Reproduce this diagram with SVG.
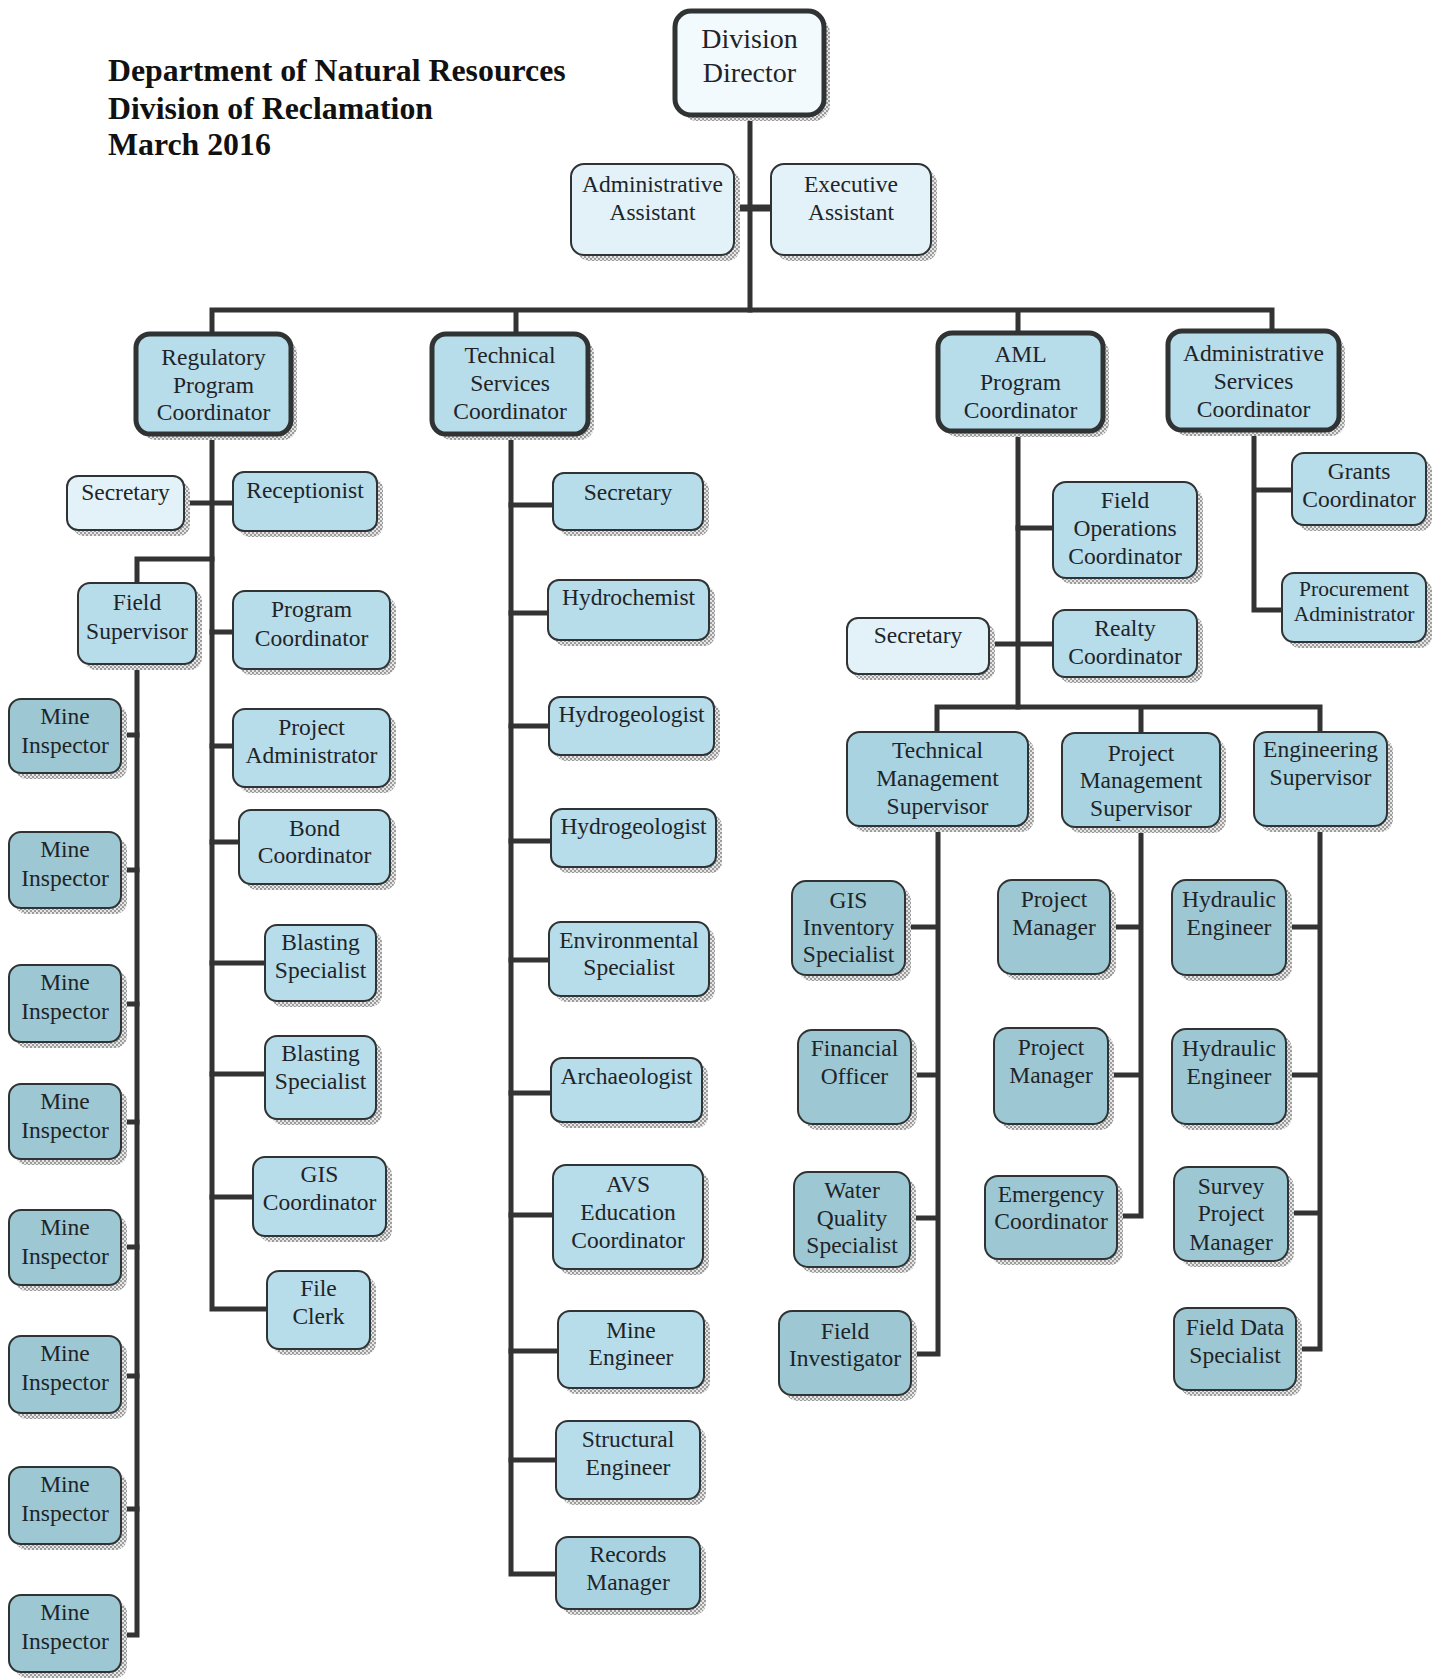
<svg xmlns="http://www.w3.org/2000/svg" width="1442" height="1679" viewBox="0 0 1442 1679">
<defs>
<pattern id="chk" width="4" height="4" patternUnits="userSpaceOnUse">
<rect width="4" height="4" fill="#e6e6e6"/>
<rect width="2" height="2" fill="#9c9c9c"/>
<rect x="2" y="2" width="2" height="2" fill="#9c9c9c"/>
</pattern>
</defs>
<style>
.sh{fill:url(#chk);}
.box{stroke:#2f3333;stroke-width:2;}
.major .box{stroke-width:5;}
.dir .box{fill:#f2fafd;}
.lt .box{fill:#e2f2f8;}
.md .box{fill:#b7dcea;}
.sp .box{fill:#a9d3e0;}
.dk .box{fill:#9dc8d3;}
text{font-family:"Liberation Serif","Times New Roman",serif;font-size:23.5px;fill:#1e2428;text-anchor:middle;}
.title{font-size:31.8px;font-weight:bold;text-anchor:start;fill:#111;}
.dir text{font-size:28px;}
.small{font-size:21.5px;}
.con path{fill:none;stroke:#333;stroke-width:5;stroke-linejoin:miter;stroke-linecap:square;}
</style>
<rect width="1442" height="1679" fill="#ffffff"/>
<g id="title">
<text class="title" x="108" y="81">Department of Natural Resources</text>
<text class="title" x="108" y="119">Division of Reclamation</text>
<text class="title" x="108" y="155">March 2016</text>
</g>
<g id="connectors" class="con">
<path d="M750 115V310"/>
<path d="M734 208H771" style="stroke-width:7"/>
<path d="M212 310H1272M212 310V334M516 310V334M1018 310V333M1272 310V331"/>
<path d="M212 434V1309H267"/>
<path d="M184 503H233"/>
<path d="M212 559H137V583"/>
<path d="M212 632H233M212 746H233M212 842H239M212 963H265M212 1074H265M212 1197H253"/>
<path d="M137 664V1635H121"/>
<path d="M121 735H137M121 870H137M121 1004H137M121 1122H137M121 1247H137M121 1376H137M121 1509H137"/>
<path d="M511 434V1574H556"/>
<path d="M511 505H553M511 613H548M511 726H549M511 841H551M511 960H549M511 1093H551M511 1215H553M511 1351H558M511 1460H556"/>
<path d="M1018 431V707"/>
<path d="M1018 528H1053M989 644H1053"/>
<path d="M937 707H1320M937 707V732M1141 707V733M1320 707V732"/>
<path d="M938 826V1354H911M905 927H938M911 1075H938M910 1218H938"/>
<path d="M1141 827V1216H1117M1110 927H1141M1108 1075H1141"/>
<path d="M1320 826V1349H1296M1286 927H1320M1286 1075H1320M1288 1213H1320"/>
<path d="M1254 430V610H1282M1254 490H1292"/>
</g>
<g id="division-director" class="major dir"><rect class="sh" x="681" y="17" width="149" height="104" rx="16"/><rect class="box" x="675" y="11" width="149" height="104" rx="16"/><text x="749.5"><tspan x="749.5" y="48">Division</tspan><tspan x="749.5" y="82">Director</tspan></text></g>
<g id="administrative-assistant" class="lt"><rect class="sh" x="577" y="170" width="163" height="91" rx="13"/><rect class="box" x="571" y="164" width="163" height="91" rx="13"/><text><tspan x="652.5" y="192">Administrative</tspan><tspan x="652.5" y="220">Assistant</tspan></text></g>
<g id="executive-assistant" class="lt"><rect class="sh" x="777" y="170" width="160" height="91" rx="13"/><rect class="box" x="771" y="164" width="160" height="91" rx="13"/><text><tspan x="851" y="192">Executive</tspan><tspan x="851" y="220">Assistant</tspan></text></g>
<g id="regulatory-program-coordinator" class="major md"><rect class="sh" x="142" y="340" width="155" height="100" rx="14"/><rect class="box" x="136" y="334" width="155" height="100" rx="14"/><text><tspan x="213.5" y="365">Regulatory</tspan><tspan x="213.5" y="392.5">Program</tspan><tspan x="213.5" y="420">Coordinator</tspan></text></g>
<g id="technical-services-coordinator" class="major md"><rect class="sh" x="438" y="340" width="156" height="100" rx="14"/><rect class="box" x="432" y="334" width="156" height="100" rx="14"/><text><tspan x="510" y="363">Technical</tspan><tspan x="510" y="391">Services</tspan><tspan x="510" y="419">Coordinator</tspan></text></g>
<g id="aml-program-coordinator" class="major md"><rect class="sh" x="944" y="339" width="165" height="98" rx="14"/><rect class="box" x="938" y="333" width="165" height="98" rx="14"/><text><tspan x="1020.5" y="362">AML</tspan><tspan x="1020.5" y="390">Program</tspan><tspan x="1020.5" y="418">Coordinator</tspan></text></g>
<g id="administrative-services-coordinator" class="major md"><rect class="sh" x="1174" y="337" width="171" height="99" rx="14"/><rect class="box" x="1168" y="331" width="171" height="99" rx="14"/><text><tspan x="1253.5" y="361">Administrative</tspan><tspan x="1253.5" y="389">Services</tspan><tspan x="1253.5" y="417">Coordinator</tspan></text></g>
<g id="reg-secretary" class="lt"><rect class="sh" x="73" y="482" width="117" height="54" rx="11"/><rect class="box" x="67" y="476" width="117" height="54" rx="11"/><text x="125.5" y="500">Secretary</text></g>
<g id="receptionist" class="md"><rect class="sh" x="239" y="478" width="144" height="59" rx="11"/><rect class="box" x="233" y="472" width="144" height="59" rx="11"/><text x="305" y="498">Receptionist</text></g>
<g id="field-supervisor" class="md"><rect class="sh" x="84" y="589" width="118" height="81" rx="12"/><rect class="box" x="78" y="583" width="118" height="81" rx="12"/><text><tspan x="137" y="610">Field</tspan><tspan x="137" y="638.5">Supervisor</tspan></text></g>
<g id="program-coordinator" class="md"><rect class="sh" x="239" y="597" width="157" height="78" rx="12"/><rect class="box" x="233" y="591" width="157" height="78" rx="12"/><text><tspan x="311.5" y="617">Program</tspan><tspan x="311.5" y="646">Coordinator</tspan></text></g>
<g id="project-administrator" class="md"><rect class="sh" x="239" y="715" width="157" height="78" rx="12"/><rect class="box" x="233" y="709" width="157" height="78" rx="12"/><text><tspan x="311.5" y="735">Project</tspan><tspan x="311.5" y="763">Administrator</tspan></text></g>
<g id="bond-coordinator" class="md"><rect class="sh" x="245" y="816" width="151" height="74" rx="12"/><rect class="box" x="239" y="810" width="151" height="74" rx="12"/><text><tspan x="314.5" y="835.5">Bond</tspan><tspan x="314.5" y="863">Coordinator</tspan></text></g>
<g id="blasting-specialist-1" class="md"><rect class="sh" x="271" y="931" width="111" height="76" rx="12"/><rect class="box" x="265" y="925" width="111" height="76" rx="12"/><text><tspan x="320.5" y="950">Blasting</tspan><tspan x="320.5" y="978">Specialist</tspan></text></g>
<g id="blasting-specialist-2" class="md"><rect class="sh" x="271" y="1042" width="111" height="83" rx="12"/><rect class="box" x="265" y="1036" width="111" height="83" rx="12"/><text><tspan x="320.5" y="1061">Blasting</tspan><tspan x="320.5" y="1089">Specialist</tspan></text></g>
<g id="gis-coordinator" class="md"><rect class="sh" x="259" y="1163" width="133" height="79" rx="12"/><rect class="box" x="253" y="1157" width="133" height="79" rx="12"/><text><tspan x="319.5" y="1182">GIS</tspan><tspan x="319.5" y="1210">Coordinator</tspan></text></g>
<g id="file-clerk" class="md"><rect class="sh" x="273" y="1277" width="103" height="78" rx="12"/><rect class="box" x="267" y="1271" width="103" height="78" rx="12"/><text><tspan x="318.5" y="1296">File</tspan><tspan x="318.5" y="1324">Clerk</tspan></text></g>
<g id="mine-inspector-1" class="dk"><rect class="sh" x="15" y="705" width="112" height="74" rx="12"/><rect class="box" x="9" y="699" width="112" height="74" rx="12"/><text><tspan x="65" y="724">Mine</tspan><tspan x="65" y="753">Inspector</tspan></text></g>
<g id="mine-inspector-2" class="dk"><rect class="sh" x="15" y="838" width="112" height="76" rx="12"/><rect class="box" x="9" y="832" width="112" height="76" rx="12"/><text><tspan x="65" y="857">Mine</tspan><tspan x="65" y="886">Inspector</tspan></text></g>
<g id="mine-inspector-3" class="dk"><rect class="sh" x="15" y="971" width="112" height="77" rx="12"/><rect class="box" x="9" y="965" width="112" height="77" rx="12"/><text><tspan x="65" y="990">Mine</tspan><tspan x="65" y="1019">Inspector</tspan></text></g>
<g id="mine-inspector-4" class="dk"><rect class="sh" x="15" y="1090" width="112" height="75" rx="12"/><rect class="box" x="9" y="1084" width="112" height="75" rx="12"/><text><tspan x="65" y="1109">Mine</tspan><tspan x="65" y="1138">Inspector</tspan></text></g>
<g id="mine-inspector-5" class="dk"><rect class="sh" x="15" y="1216" width="112" height="75" rx="12"/><rect class="box" x="9" y="1210" width="112" height="75" rx="12"/><text><tspan x="65" y="1235">Mine</tspan><tspan x="65" y="1264">Inspector</tspan></text></g>
<g id="mine-inspector-6" class="dk"><rect class="sh" x="15" y="1342" width="112" height="77" rx="12"/><rect class="box" x="9" y="1336" width="112" height="77" rx="12"/><text><tspan x="65" y="1361">Mine</tspan><tspan x="65" y="1390">Inspector</tspan></text></g>
<g id="mine-inspector-7" class="dk"><rect class="sh" x="15" y="1473" width="112" height="77" rx="12"/><rect class="box" x="9" y="1467" width="112" height="77" rx="12"/><text><tspan x="65" y="1492">Mine</tspan><tspan x="65" y="1521">Inspector</tspan></text></g>
<g id="mine-inspector-8" class="dk"><rect class="sh" x="15" y="1601" width="112" height="77" rx="12"/><rect class="box" x="9" y="1595" width="112" height="77" rx="12"/><text><tspan x="65" y="1620">Mine</tspan><tspan x="65" y="1649">Inspector</tspan></text></g>
<g id="tech-secretary" class="md"><rect class="sh" x="559" y="479" width="150" height="57" rx="11"/><rect class="box" x="553" y="473" width="150" height="57" rx="11"/><text x="628" y="500">Secretary</text></g>
<g id="hydrochemist" class="md"><rect class="sh" x="554" y="586" width="161" height="60" rx="11"/><rect class="box" x="548" y="580" width="161" height="60" rx="11"/><text x="628.5" y="605">Hydrochemist</text></g>
<g id="hydrogeologist-1" class="md"><rect class="sh" x="555" y="703" width="165" height="58" rx="11"/><rect class="box" x="549" y="697" width="165" height="58" rx="11"/><text x="631.5" y="722">Hydrogeologist</text></g>
<g id="hydrogeologist-2" class="md"><rect class="sh" x="557" y="815" width="165" height="58" rx="11"/><rect class="box" x="551" y="809" width="165" height="58" rx="11"/><text x="633.5" y="834">Hydrogeologist</text></g>
<g id="environmental-specialist" class="md"><rect class="sh" x="555" y="928" width="160" height="74" rx="12"/><rect class="box" x="549" y="922" width="160" height="74" rx="12"/><text><tspan x="629" y="948">Environmental</tspan><tspan x="629" y="975">Specialist</tspan></text></g>
<g id="archaeologist" class="md"><rect class="sh" x="557" y="1064" width="151" height="64" rx="11"/><rect class="box" x="551" y="1058" width="151" height="64" rx="11"/><text x="626.5" y="1084">Archaeologist</text></g>
<g id="avs-education-coordinator" class="md"><rect class="sh" x="559" y="1171" width="150" height="104" rx="13"/><rect class="box" x="553" y="1165" width="150" height="104" rx="13"/><text><tspan x="628" y="1192">AVS</tspan><tspan x="628" y="1220">Education</tspan><tspan x="628" y="1248">Coordinator</tspan></text></g>
<g id="mine-engineer" class="md"><rect class="sh" x="564" y="1317" width="146" height="77" rx="12"/><rect class="box" x="558" y="1311" width="146" height="77" rx="12"/><text><tspan x="631" y="1338">Mine</tspan><tspan x="631" y="1365">Engineer</tspan></text></g>
<g id="structural-engineer" class="md"><rect class="sh" x="562" y="1427" width="144" height="78" rx="12"/><rect class="box" x="556" y="1421" width="144" height="78" rx="12"/><text><tspan x="628" y="1447">Structural</tspan><tspan x="628" y="1475">Engineer</tspan></text></g>
<g id="records-manager" class="sp"><rect class="sh" x="562" y="1543" width="144" height="72" rx="12"/><rect class="box" x="556" y="1537" width="144" height="72" rx="12"/><text><tspan x="628" y="1562">Records</tspan><tspan x="628" y="1590">Manager</tspan></text></g>
<g id="field-operations-coordinator" class="md"><rect class="sh" x="1059" y="488" width="144" height="96" rx="13"/><rect class="box" x="1053" y="482" width="144" height="96" rx="13"/><text><tspan x="1125" y="508">Field</tspan><tspan x="1125" y="536">Operations</tspan><tspan x="1125" y="564">Coordinator</tspan></text></g>
<g id="aml-secretary" class="lt"><rect class="sh" x="853" y="624" width="142" height="56" rx="11"/><rect class="box" x="847" y="618" width="142" height="56" rx="11"/><text x="918" y="643">Secretary</text></g>
<g id="realty-coordinator" class="md"><rect class="sh" x="1059" y="616" width="144" height="67" rx="12"/><rect class="box" x="1053" y="610" width="144" height="67" rx="12"/><text><tspan x="1125" y="636">Realty</tspan><tspan x="1125" y="664">Coordinator</tspan></text></g>
<g id="technical-management-supervisor" class="sp"><rect class="sh" x="853" y="738" width="181" height="94" rx="13"/><rect class="box" x="847" y="732" width="181" height="94" rx="13"/><text><tspan x="937.5" y="758">Technical</tspan><tspan x="937.5" y="786">Management</tspan><tspan x="937.5" y="814">Supervisor</tspan></text></g>
<g id="project-management-supervisor" class="sp"><rect class="sh" x="1068" y="739" width="158" height="94" rx="13"/><rect class="box" x="1062" y="733" width="158" height="94" rx="13"/><text><tspan x="1141" y="761">Project</tspan><tspan x="1141" y="788">Management</tspan><tspan x="1141" y="816">Supervisor</tspan></text></g>
<g id="engineering-supervisor" class="sp"><rect class="sh" x="1260" y="738" width="133" height="94" rx="13"/><rect class="box" x="1254" y="732" width="133" height="94" rx="13"/><text><tspan x="1320.5" y="757">Engineering</tspan><tspan x="1320.5" y="785">Supervisor</tspan></text></g>
<g id="gis-inventory-specialist" class="dk"><rect class="sh" x="798" y="887" width="113" height="94" rx="14"/><rect class="box" x="792" y="881" width="113" height="94" rx="14"/><text><tspan x="848.5" y="908">GIS</tspan><tspan x="848.5" y="935">Inventory</tspan><tspan x="848.5" y="962">Specialist</tspan></text></g>
<g id="financial-officer" class="dk"><rect class="sh" x="804" y="1036" width="113" height="94" rx="14"/><rect class="box" x="798" y="1030" width="113" height="94" rx="14"/><text><tspan x="854.5" y="1056">Financial</tspan><tspan x="854.5" y="1084">Officer</tspan></text></g>
<g id="water-quality-specialist" class="dk"><rect class="sh" x="800" y="1178" width="116" height="95" rx="14"/><rect class="box" x="794" y="1172" width="116" height="95" rx="14"/><text><tspan x="852" y="1198">Water</tspan><tspan x="852" y="1226">Quality</tspan><tspan x="852" y="1253">Specialist</tspan></text></g>
<g id="field-investigator" class="dk"><rect class="sh" x="785" y="1317" width="132" height="84" rx="13"/><rect class="box" x="779" y="1311" width="132" height="84" rx="13"/><text><tspan x="845" y="1339">Field</tspan><tspan x="845" y="1366">Investigator</tspan></text></g>
<g id="project-manager-1" class="dk"><rect class="sh" x="1004" y="886" width="112" height="94" rx="14"/><rect class="box" x="998" y="880" width="112" height="94" rx="14"/><text><tspan x="1054" y="907">Project</tspan><tspan x="1054" y="935">Manager</tspan></text></g>
<g id="project-manager-2" class="dk"><rect class="sh" x="1000" y="1034" width="114" height="96" rx="14"/><rect class="box" x="994" y="1028" width="114" height="96" rx="14"/><text><tspan x="1051" y="1055">Project</tspan><tspan x="1051" y="1083">Manager</tspan></text></g>
<g id="emergency-coordinator" class="dk"><rect class="sh" x="991" y="1182" width="132" height="83" rx="13"/><rect class="box" x="985" y="1176" width="132" height="83" rx="13"/><text><tspan x="1051" y="1202">Emergency</tspan><tspan x="1051" y="1229">Coordinator</tspan></text></g>
<g id="hydraulic-engineer-1" class="dk"><rect class="sh" x="1178" y="886" width="114" height="95" rx="14"/><rect class="box" x="1172" y="880" width="114" height="95" rx="14"/><text><tspan x="1229" y="907">Hydraulic</tspan><tspan x="1229" y="935">Engineer</tspan></text></g>
<g id="hydraulic-engineer-2" class="dk"><rect class="sh" x="1178" y="1035" width="114" height="95" rx="14"/><rect class="box" x="1172" y="1029" width="114" height="95" rx="14"/><text><tspan x="1229" y="1056">Hydraulic</tspan><tspan x="1229" y="1084">Engineer</tspan></text></g>
<g id="survey-project-manager" class="dk"><rect class="sh" x="1180" y="1173" width="114" height="94" rx="14"/><rect class="box" x="1174" y="1167" width="114" height="94" rx="14"/><text><tspan x="1231" y="1194">Survey</tspan><tspan x="1231" y="1221">Project</tspan><tspan x="1231" y="1250">Manager</tspan></text></g>
<g id="field-data-specialist" class="dk"><rect class="sh" x="1180" y="1314" width="122" height="82" rx="13"/><rect class="box" x="1174" y="1308" width="122" height="82" rx="13"/><text><tspan x="1235" y="1335">Field Data</tspan><tspan x="1235" y="1363">Specialist</tspan></text></g>
<g id="grants-coordinator" class="md"><rect class="sh" x="1298" y="459" width="134" height="72" rx="12"/><rect class="box" x="1292" y="453" width="134" height="72" rx="12"/><text><tspan x="1359" y="479">Grants</tspan><tspan x="1359" y="507">Coordinator</tspan></text></g>
<g id="procurement-administrator" class="md"><rect class="sh" x="1288" y="579" width="144" height="69" rx="12"/><rect class="box" x="1282" y="573" width="144" height="69" rx="12"/><text class="small"><tspan x="1354" y="596">Procurement</tspan><tspan x="1354" y="621">Administrator</tspan></text></g>
</svg>
